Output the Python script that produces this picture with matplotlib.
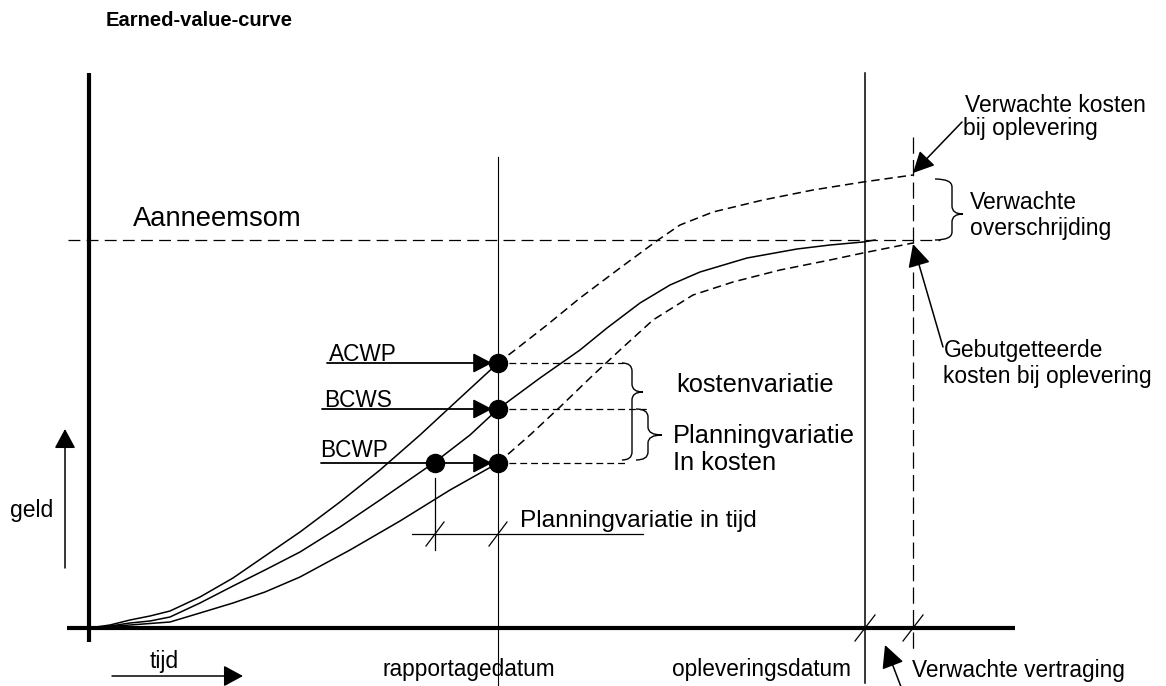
"""Earned-value-curve schematic."""

import matplotlib.pyplot as plt
from matplotlib.path import Path
from matplotlib.patches import PathPatch

# schematic drawing units: x to the right, y downwards (pixel grid 1166 x 686)
acwp_x = [89, 110, 130, 150, 170, 200, 233, 265, 300, 340, 380, 420, 460, 498]
acwp_y = [628, 625, 620, 616, 611, 597, 578, 556, 532, 502, 470, 435, 398, 363]
acwp_fc_x = [498, 515, 547, 580, 620, 658, 680, 713, 763, 813, 863, 913]
acwp_fc_y = [363, 350, 325, 298, 268, 240, 225, 212, 200, 190, 182, 175]

bcws_x = [89, 110, 130, 150, 170, 200, 233, 265, 300, 340, 380, 435, 470, 498,
          540, 580, 607, 640, 670, 700, 747, 797, 830, 863, 875]
bcws_y = [628, 626, 623, 621, 617, 603, 586, 570, 552, 527, 500, 462, 435, 409,
          378, 350, 328, 303, 285, 272, 258, 249, 245, 242, 240]

bcwp_x = [89, 130, 170, 200, 233, 265, 300, 350, 400, 450, 498]
bcwp_y = [628, 625, 622, 613, 603, 592, 577, 550, 521, 490, 463]
bcwp_fc_x = [498, 530, 560, 590, 620, 653, 693, 733, 780, 830, 863, 913]
bcwp_fc_y = [463, 435, 407, 378, 350, 320, 295, 282, 270, 260, 253, 243]

origin = (89, 628)
budget_y = 240          # aanneemsom
report_x = 498          # rapportagedatum
delivery_x = 865        # opleveringsdatum
forecast_x = 913        # verwachte oplevering
acwp_now, bcws_now, bcwp_now = 363, 409, 463
bcwp_early_x = 435      # moment waarop BCWS = BCWP
forecast_cost_y = 175
forecast_budget_y = 243

plt.rcParams["font.family"] = ["Liberation Sans", "DejaVu Sans"]

fig = plt.figure(figsize=(11.66, 6.86), dpi=100)
ax = fig.add_axes([0, 0, 1, 1])
ax.set_xlim(0, 1166)
ax.set_ylim(686, 0)
ax.axis("off")

K = "black"
SHORT = (0, (5.5, 3.2))
LONG = (0, (9.5, 5.0))


def arrow(tail, tip, lw=1.0, hl=11.5, hw=6.0):
    ax.annotate("", xy=tip, xytext=tail,
                arrowprops=dict(arrowstyle=f"-|>,head_length={hl},head_width={hw}",
                                mutation_scale=1, lw=lw, color=K, fc=K,
                                shrinkA=0, shrinkB=0))


def brace(x0, xv, xtip, y_top, y_tip, y_bot, r=8):
    verts = [(x0, y_top), (xv, y_top), (xv, y_top + r),
             (xv, y_tip - r),
             (xv, y_tip), (xtip, y_tip),
             (xv, y_tip), (xv, y_tip + r),
             (xv, y_bot - r),
             (xv, y_bot), (x0, y_bot)]
    codes = [Path.MOVETO, Path.CURVE3, Path.CURVE3, Path.LINETO,
             Path.CURVE3, Path.CURVE3, Path.CURVE3, Path.CURVE3,
             Path.LINETO, Path.CURVE3, Path.CURVE3]
    ax.add_patch(PathPatch(Path(verts, codes), fill=False, lw=1.0, ec=K))


def slash(x, y, dx=10, dy=13):
    ax.plot([x - dx, x + dx], [y + dy, y - dy], color=K, lw=0.9)


# axes
ax.plot([origin[0], origin[0]], [73, 642], color=K, lw=3.0, solid_capstyle="butt")
ax.plot([67, 1015], [origin[1], origin[1]], color=K, lw=3.0, solid_capstyle="butt")

# reference lines
ax.plot([68, 940], [budget_y, budget_y], color=K, lw=0.9, ls=LONG)
ax.plot([report_x, report_x], [157, 686], color=K, lw=0.8)
ax.plot([delivery_x, delivery_x], [73, 683], color=K, lw=1.1)
ax.plot([forecast_x, forecast_x], [137, 653], color=K, lw=0.9, ls=(0, (13, 5)))
slash(delivery_x, origin[1])
slash(forecast_x, origin[1])

# curves
ax.plot(acwp_x, acwp_y, color=K, lw=1.1)
ax.plot(acwp_fc_x, acwp_fc_y, color=K, lw=1.1, ls=SHORT)
ax.plot(bcws_x, bcws_y, color=K, lw=1.1)
ax.plot(bcwp_x, bcwp_y, color=K, lw=1.1)
ax.plot(bcwp_fc_x, bcwp_fc_y, color=K, lw=1.1, ls=SHORT)

# horizontal guides from the points
ax.plot([report_x, 623], [acwp_now, acwp_now], color=K, lw=0.9, ls=SHORT)
ax.plot([report_x, 647], [bcws_now, bcws_now], color=K, lw=0.9, ls=SHORT)
ax.plot([report_x, 627], [bcwp_now, bcwp_now], color=K, lw=0.9, ls=SHORT)

# label arrows and dots
arrow((327, acwp_now), (492, acwp_now), lw=1.3)
arrow((322, bcws_now), (492, bcws_now), lw=1.3)
arrow((321, bcwp_now), (492, bcwp_now), lw=1.3)
ax.plot([report_x, report_x, report_x, bcwp_early_x],
        [acwp_now, bcws_now, bcwp_now, bcwp_now],
        "o", color=K, ms=13, zorder=5)

ax.text(329, 361, "ACWP", fontsize=16.3, va="baseline")
ax.text(324, 407, "BCWS", fontsize=16.3, va="baseline")
ax.text(320, 457, "BCWP", fontsize=16.3, va="baseline")

# braces
brace(622, 632, 643, acwp_now, 392, 460)
brace(636, 648, 662, bcws_now, 435, 460)
brace(935, 952, 963, 179, 214, 240)

ax.text(676, 392, "kostenvariatie", fontsize=18.3, va="baseline")
ax.text(673, 443, "Planningvariatie", fontsize=18.3, va="baseline")
ax.text(673, 470, "In kosten", fontsize=18.3, va="baseline")

# planning variance in time
ax.plot([bcwp_early_x, bcwp_early_x], [478, 550], color=K, lw=0.9)
ax.plot([412, 643], [534, 534], color=K, lw=0.9)
slash(bcwp_early_x, 534, 9, 12)
slash(report_x, 534, 9, 12)
ax.text(520, 527, "Planningvariatie in tijd", fontsize=17.6, va="baseline")

# budget
ax.text(133, 226, "Aanneemsom", fontsize=19.7, va="baseline")

# right-hand annotations
ax.text(965, 112, "Verwachte kosten", fontsize=16.5, va="baseline")
ax.text(963, 135, "bij oplevering", fontsize=16.5, va="baseline")
arrow((962, 122), (forecast_x, forecast_cost_y - 2), lw=1.1, hl=13, hw=6.5)

ax.text(970, 209, "Verwachte", fontsize=16.5, va="baseline")
ax.text(970, 235, "overschrijding", fontsize=16.5, va="baseline")

ax.text(944, 357, "Gebutgetteerde", fontsize=16.5, va="baseline")
ax.text(943, 383, "kosten bij oplevering", fontsize=16.5, va="baseline")
arrow((943, 347), (forecast_x, forecast_budget_y + 1), lw=1.1, hl=14, hw=7)

# time axis labels
ax.text(383, 676, "rapportagedatum", fontsize=16.3, va="baseline")
ax.text(851, 676, "opleveringsdatum", fontsize=16.3, va="baseline", ha="right")
ax.text(912, 677, "Verwachte vertraging", fontsize=16.3, va="baseline")
arrow((903, 692), (885, 645), lw=1.1, hl=14, hw=7)

# axis names
ax.text(10, 517, "geld", fontsize=16.5, va="baseline")
arrow((65, 568), (65, 429), lw=1.1, hl=12, hw=6.5)
ax.text(150, 668, "tijd", fontsize=16.5, va="baseline")
arrow((112, 676), (243, 676), lw=1.1, hl=12, hw=6.5)

ax.text(106, 26, "Earned-value-curve", fontsize=14.5, fontweight="bold", va="baseline")

fig.savefig("out.png", dpi=100)
